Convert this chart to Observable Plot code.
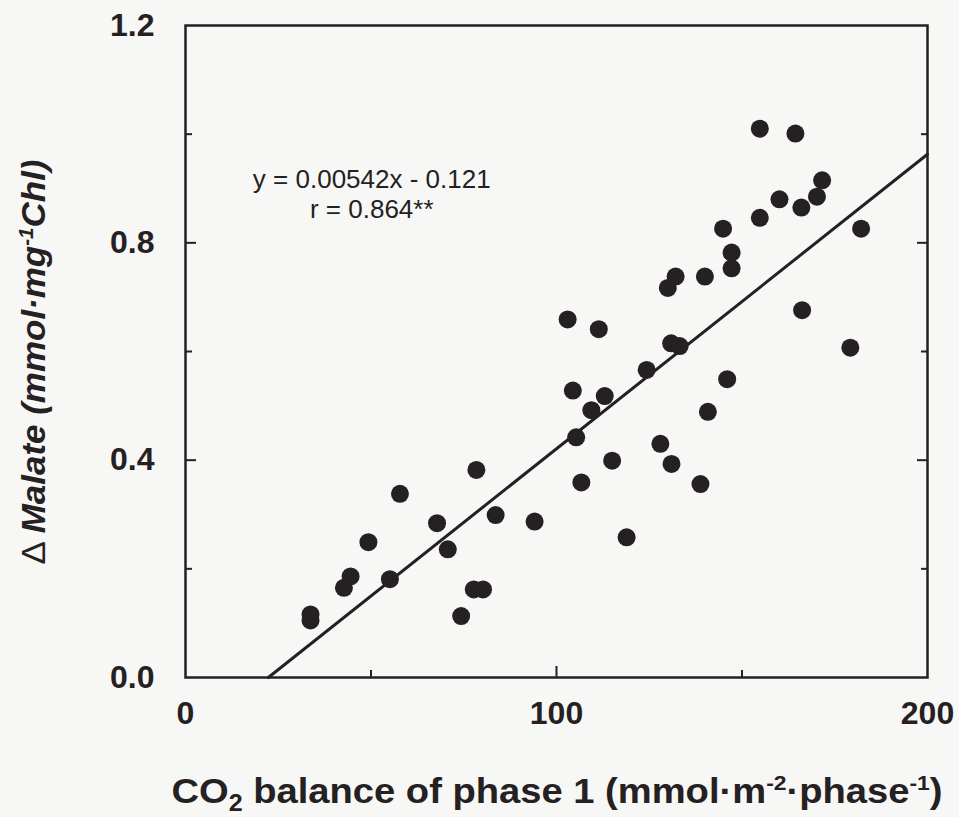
<!DOCTYPE html>
<html><head><meta charset="utf-8">
<script src="https://cdn.jsdelivr.net/npm/d3@7"></script>
<script src="https://cdn.jsdelivr.net/npm/@observablehq/plot@0.6"></script>
<style>body{margin:0;background:#f7f7f5;} svg{display:block}</style>
</head><body><div id="chart"></div>
<script>
// CO2 balance of phase 1 (mmol·m-2·phase-1)
const co2Balance = [33.7,33.7,42.7,44.5,49.3,55.1,57.8,67.8,70.7,74.3,77.7,80.2,78.4,83.6,94.1,
  103.0,104.4,105.3,106.7,109.4,111.4,113.0,115.0,118.9,124.3,128.0,130.0,130.9,131.0,132.1,133.2,
  138.8,140.0,140.8,144.9,146.0,147.2,147.2,154.8,154.8,160.1,164.4,166.0,166.2,170.2,171.6,179.2,182.1];
// Δ Malate (mmol·mg-1 Chl)
const deltaMalate = [0.116,0.105,0.165,0.186,0.249,0.181,0.338,0.284,0.236,0.113,0.162,0.162,0.382,0.299,0.287,
  0.659,0.528,0.442,0.359,0.492,0.641,0.518,0.399,0.258,0.566,0.430,0.717,0.615,0.393,0.738,0.610,
  0.356,0.738,0.489,0.826,0.549,0.782,0.753,1.010,0.846,0.880,1.001,0.865,0.676,0.885,0.915,0.607,0.826];
const slope = 0.00542, intercept = -0.121;
const xTickLabels = [0, 100, 200];
const xMajorTicks = [100];
const xMinorTicks = [50, 150];
const yTickLabels = [0, 0.4, 0.8, 1.2];
const yMajorTicks = [0.4, 0.8];
const yMinorTicks = [0.2, 0.6, 1.0];
const equationText = ["y = 0.00542x - 0.121\nr = 0.864**"];

const points = co2Balance.map((x, i) => ({x, y: deltaMalate[i]}));
const fit = [-intercept / slope, 200].map(x => ({x, y: slope * x + intercept}));

const ink = "#252122";
const font = "'Liberation Sans', Arial, Helvetica, sans-serif";

const chart = Plot.plot({
  width: 959, height: 817,
  marginLeft: 185, marginRight: 32, marginTop: 25, marginBottom: 140,
  style: {background: "#f7f7f5", fontFamily: font, color: ink},
  x: {domain: [0, 200], axis: null},
  y: {domain: [0, 1.2], axis: null},
  marks: [
    Plot.axisX(xTickLabels, {tickSize: 0, tickPadding: 24, fontSize: 32, fontWeight: "bold", label: null, tickFormat: d => String(d)}),
    Plot.axisX(xMajorTicks, {tickSize: -11, fill: "none", strokeWidth: 2, label: null}),
    Plot.axisX(xMinorTicks, {tickSize: -7, fill: "none", strokeWidth: 2, label: null}),
    Plot.axisY(yTickLabels, {tickSize: 0, tickPadding: 31, fontSize: 32, fontWeight: "bold", label: null, tickFormat: d => d.toFixed(1)}),
    Plot.axisY(yMajorTicks, {tickSize: -11, fill: "none", strokeWidth: 2, label: null}),
    Plot.axisY(yMinorTicks, {tickSize: -7, fill: "none", strokeWidth: 2, label: null}),
    Plot.axisY(yMajorTicks, {anchor: "right", tickSize: -11, fill: "none", strokeWidth: 2, label: null}),
    Plot.axisY(yMinorTicks, {anchor: "right", tickSize: -7, fill: "none", strokeWidth: 2, label: null}),
    Plot.frame({stroke: ink, strokeWidth: 2.5}),
    Plot.line(fit, {x: "x", y: "y", stroke: ink, strokeWidth: 3}),
    Plot.dot(points, {x: "x", y: "y", r: 9, fill: ink, stroke: "none"}),
    Plot.text(equationText, {x: 50.2, y: 0.846, text: d => d, fontSize: 26, lineAnchor: "bottom", lineHeight: 1.15, textAnchor: "middle", fill: ink})
  ]
});
document.getElementById("chart").appendChild(chart);

const svg = d3.select(chart);
// x-axis label
const xl = svg.append("text")
  .attr("x", 557).attr("y", 803).attr("text-anchor", "middle")
  .attr("font-family", font).attr("font-size", 35).attr("font-weight", "bold").attr("fill", ink)
  .attr("textLength", 771).attr("lengthAdjust", "spacingAndGlyphs");
xl.append("tspan").text("CO");
xl.append("tspan").attr("font-size", 23).attr("dy", 8).text("2");
xl.append("tspan").attr("dy", -8).text(" balance of phase 1 (mmol·m");
xl.append("tspan").attr("font-size", 21).attr("dy", -13).text("-2");
xl.append("tspan").attr("dy", 13).text("·phase");
xl.append("tspan").attr("font-size", 21).attr("dy", -13).text("-1");
xl.append("tspan").attr("dy", 13).text(")");

// y-axis label
const yl = svg.append("text")
  .attr("transform", "translate(45,362) rotate(-90)").attr("text-anchor", "middle")
  .attr("font-family", font).attr("font-size", 34).attr("font-weight", "bold").attr("font-style", "italic").attr("fill", ink)
  .attr("textLength", 405).attr("lengthAdjust", "spacingAndGlyphs");
yl.append("tspan").attr("font-weight", "normal").attr("font-style", "normal").text("Δ ");
yl.append("tspan").text("Malate (mmol·mg");
yl.append("tspan").attr("font-size", 20).attr("dy", -12).text("-1");
yl.append("tspan").attr("dy", 12).text("Chl)");
</script>
</body></html>
